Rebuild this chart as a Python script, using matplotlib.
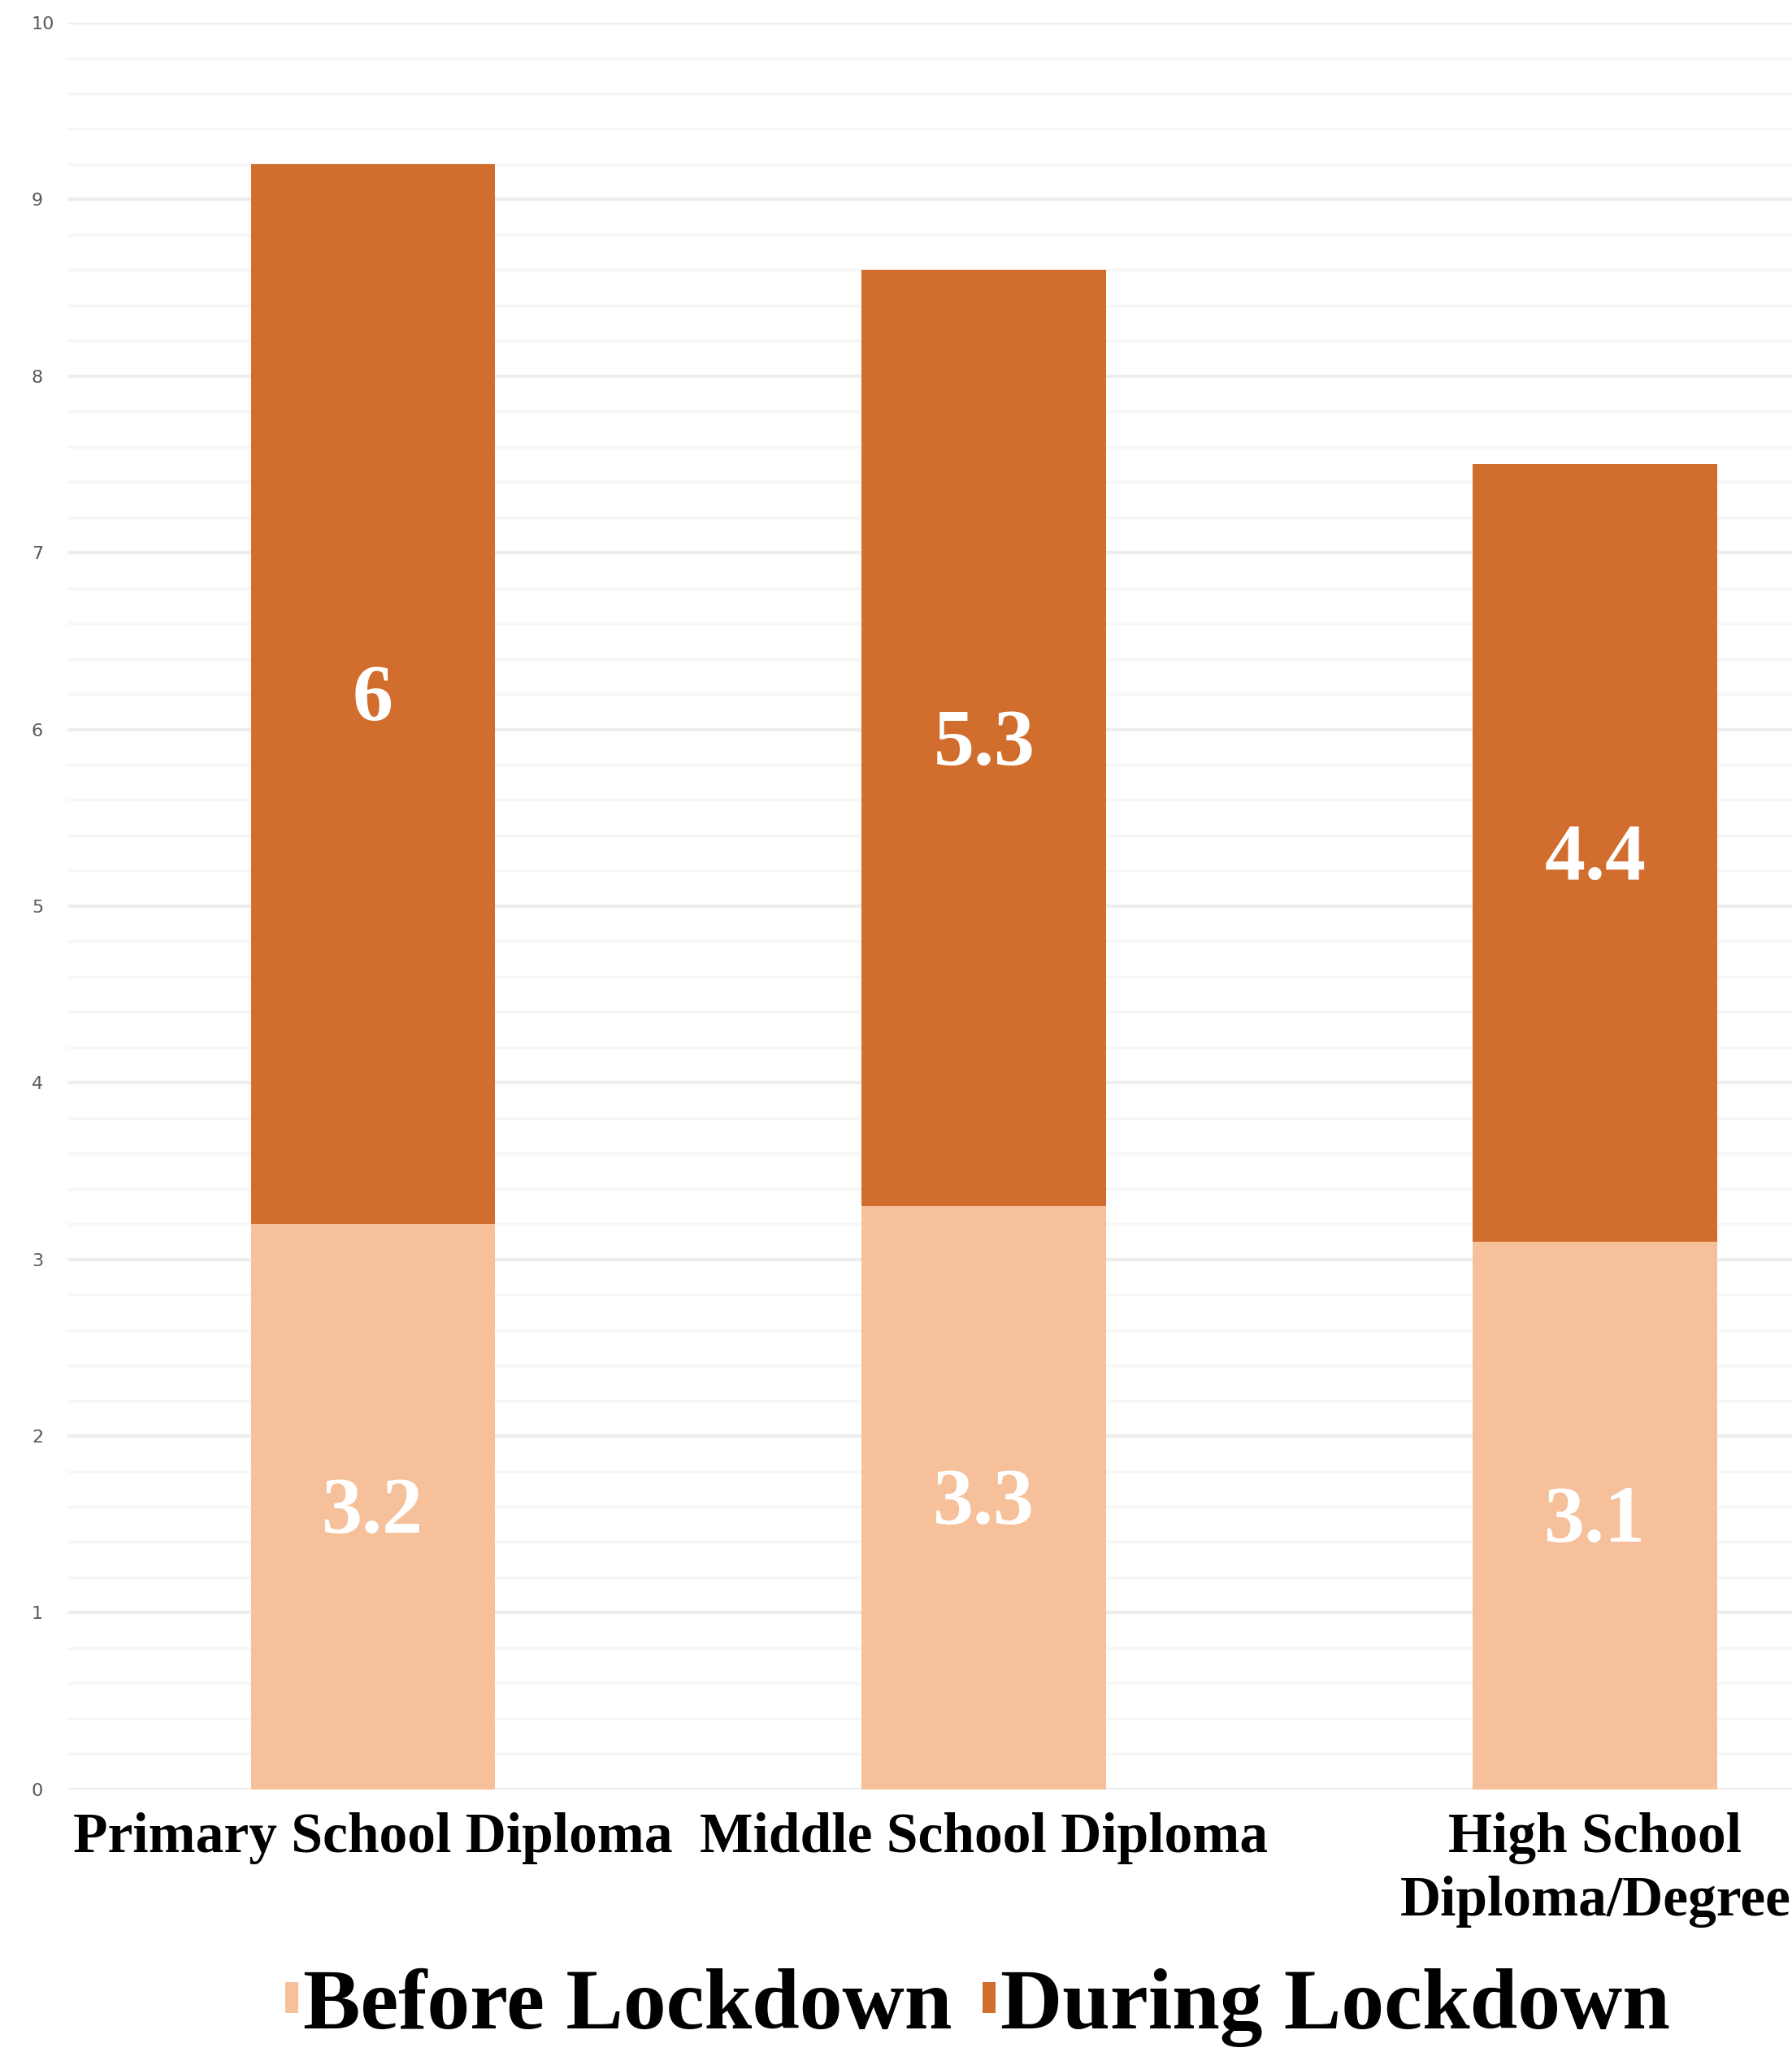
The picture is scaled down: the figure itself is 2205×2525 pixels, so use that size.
import matplotlib.pyplot as plt
import numpy as np
from matplotlib.ticker import MultipleLocator

categories = ["Primary School Diploma", "Middle School Diploma", "High School\nDiploma/Degree"]
before = [3.2, 3.3, 3.1]
during = [6.0, 5.3, 4.4]
before_labels = ["3.2", "3.3", "3.1"]
during_labels = ["6", "5.3", "4.4"]

c_before = "#F5C09A"
c_during = "#D16E2E"
serif = ["Liberation Serif", "DejaVu Serif"]

fig = plt.figure(figsize=(22.05, 25.25), dpi=100)
ax = fig.add_axes([0.0376, 0.128, 0.9624, 0.8609])

x = np.arange(len(categories))
w = 0.4
b1 = ax.bar(x, before, w, color=c_before, label="Before Lockdown", zorder=3)
b2 = ax.bar(x, during, w, bottom=before, color=c_during, label="During Lockdown", zorder=3)

# value labels, centred in each segment (a touch below centre, as in the original)
for i in range(len(categories)):
    ax.annotate(before_labels[i], (x[i], before[i] / 2), xytext=(0, -6),
                textcoords="offset points", ha="center", va="center",
                color="white", fontsize=72, fontweight="bold", family=serif, zorder=4)
    ax.annotate(during_labels[i], (x[i], before[i] + during[i] / 2), xytext=(0, -6),
                textcoords="offset points", ha="center", va="center",
                color="white", fontsize=72, fontweight="bold", family=serif, zorder=4)

ax.set_ylim(0, 10)
ax.set_xlim(-0.5, 2.322)
ax.yaxis.set_major_locator(MultipleLocator(1))
ax.yaxis.set_minor_locator(MultipleLocator(0.2))
ax.grid(which="major", axis="y", color="#eeeeee", linewidth=3, zorder=0)
ax.grid(which="minor", axis="y", color="#f7f7f7", linewidth=2.5, zorder=0)
ax.set_axisbelow(True)
for s in ax.spines.values():
    s.set_visible(False)

ax.set_xticks(x)
ax.set_xticklabels(categories, fontsize=50, fontweight="bold", family=serif,
                   linespacing=1.3)
ax.tick_params(axis="x", length=0, pad=20)
ax.tick_params(axis="y", which="both", length=0, pad=31.7, labelsize=16,
               labelcolor="#595959")
for t in ax.get_yticklabels():
    t.set_horizontalalignment("left")

fig.legend(handles=[b1, b2], loc="center", bbox_to_anchor=(0.5456, 0.0215),
           ncol=2, frameon=False, prop={"family": serif, "weight": "bold", "size": 76},
           handlelength=0.15, handleheight=0.17, handletextpad=0.06,
           columnspacing=0.35, borderpad=0, borderaxespad=0)

plt.savefig("out.png", dpi=100)
